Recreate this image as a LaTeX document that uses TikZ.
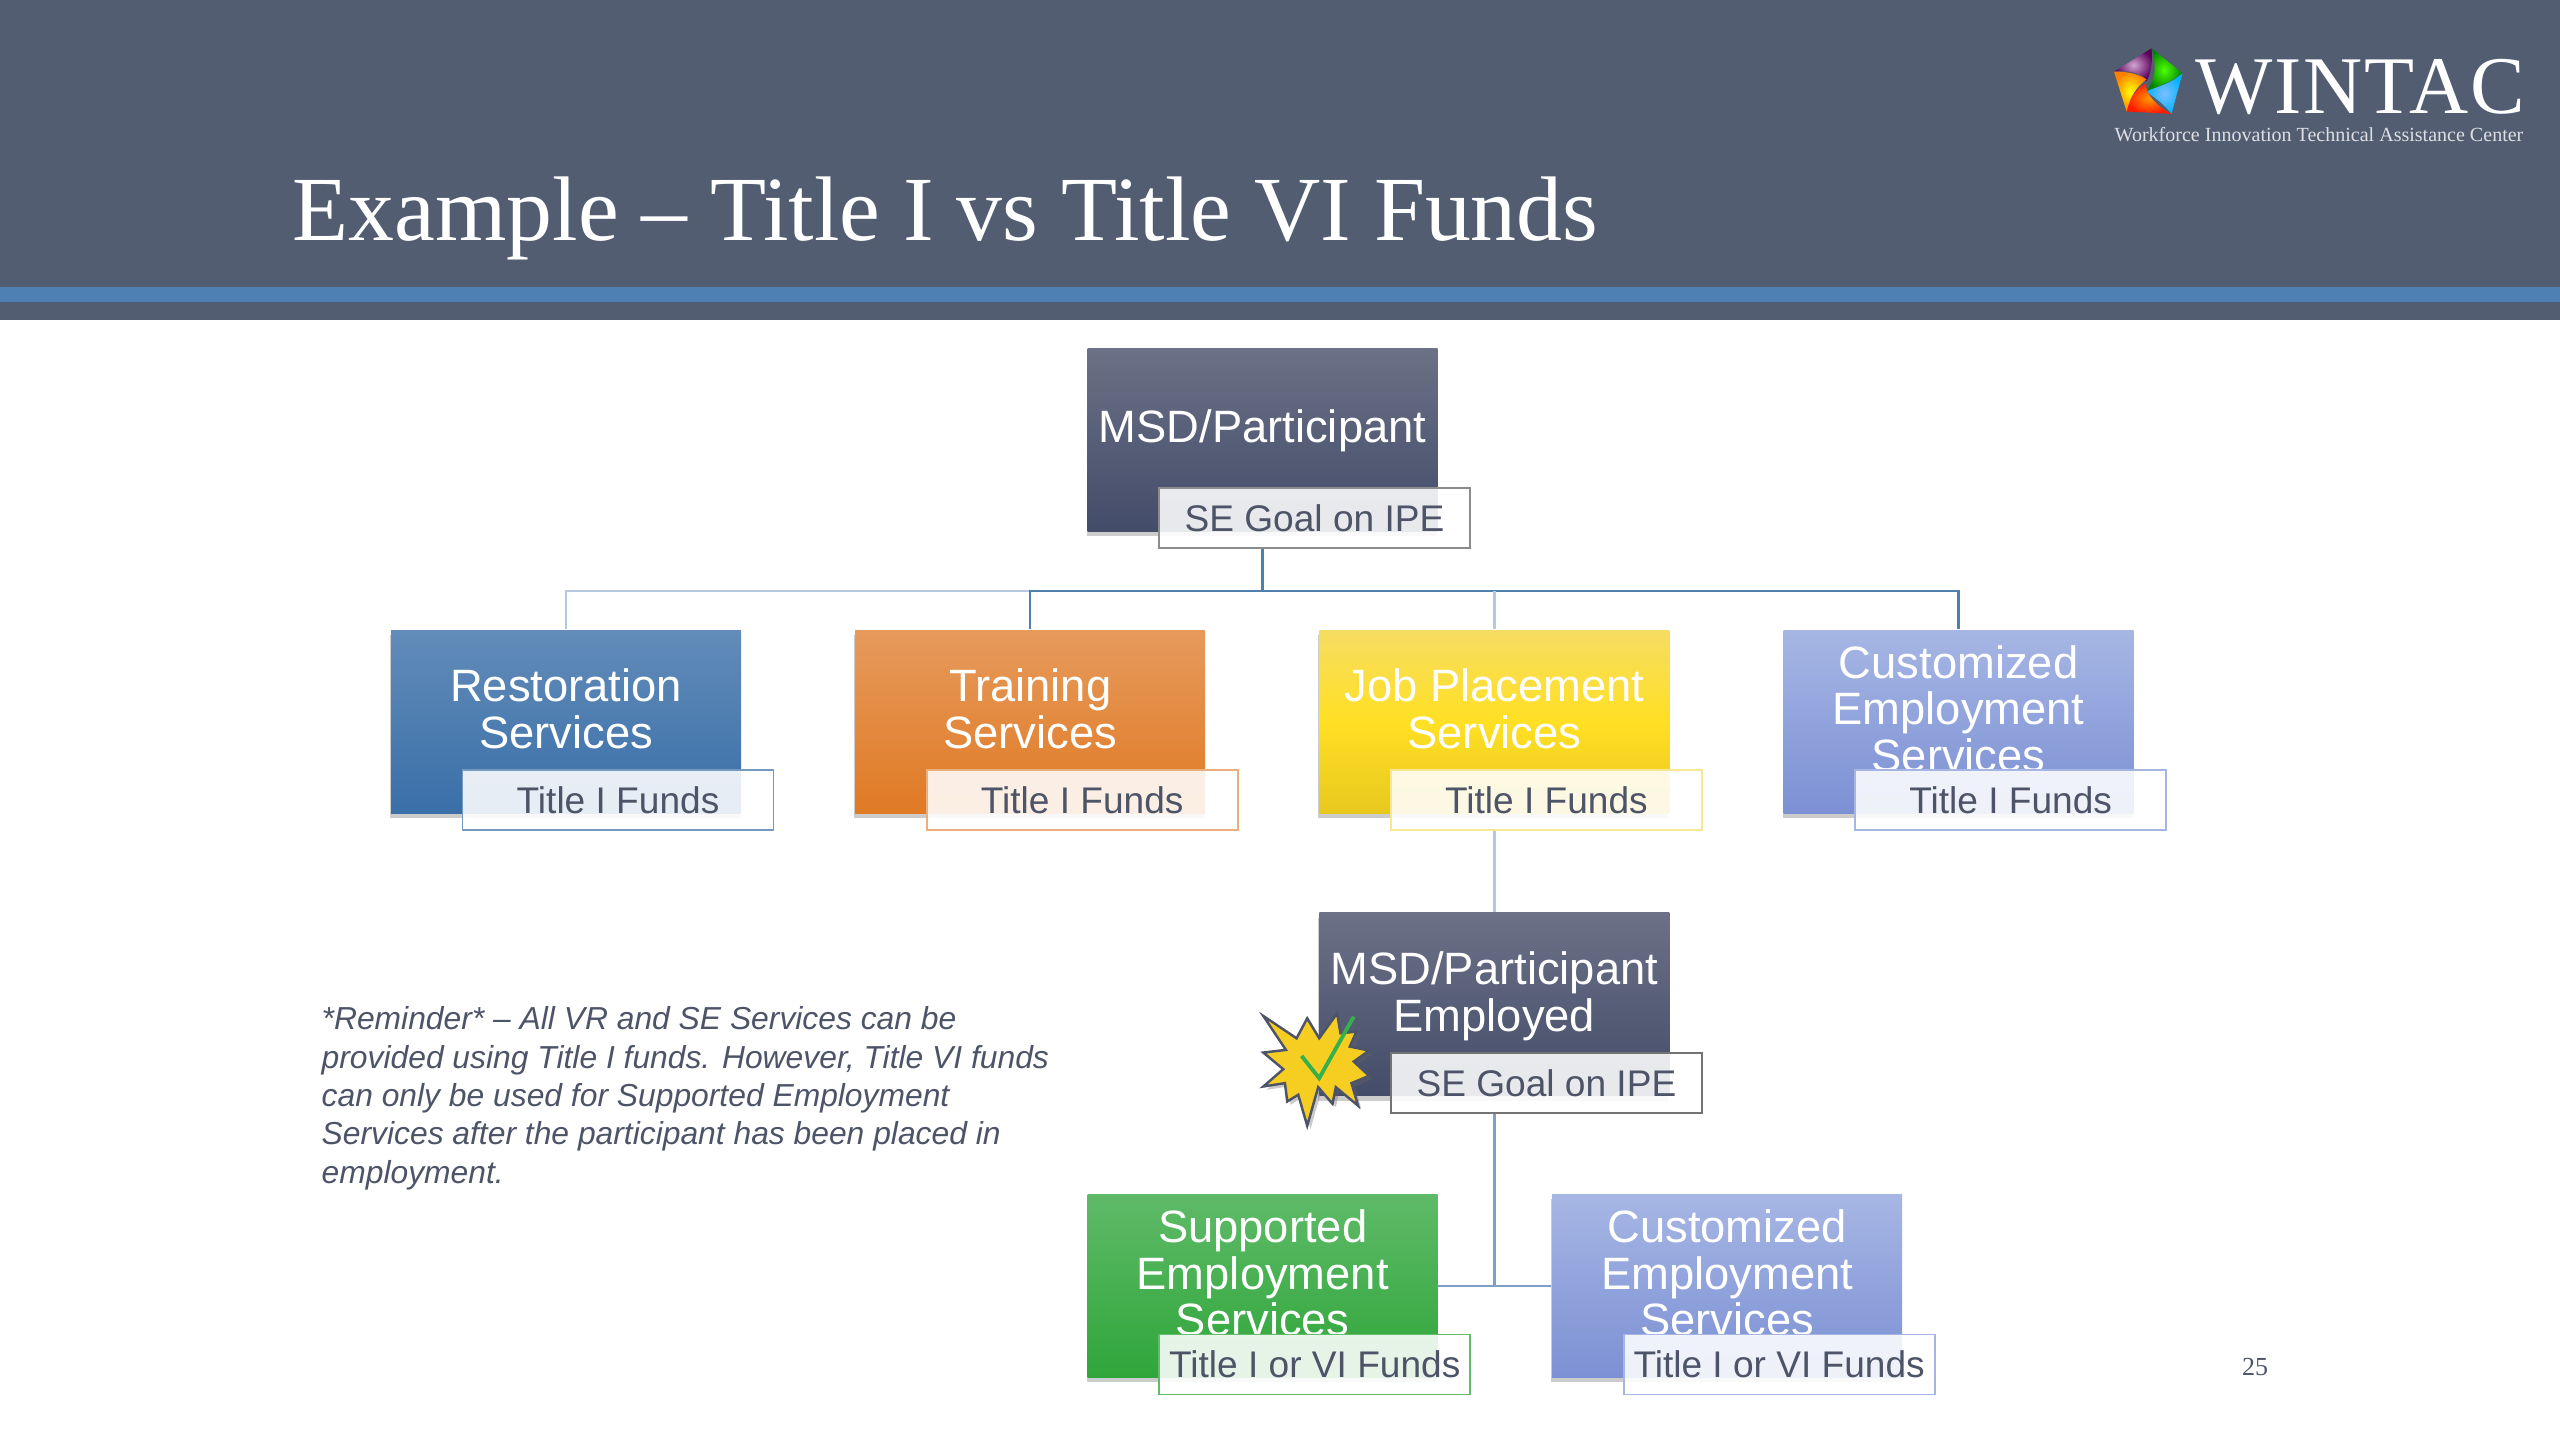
\documentclass[tikz,border=0pt]{standalone}
\usepackage{fontspec}
\setmainfont{Liberation Serif}
\setsansfont{Liberation Sans}
\usetikzlibrary{positioning,calc,shadows}
\definecolor{barslate}{HTML}{535D72}
\definecolor{barblue}{HTML}{4F80B4}
\definecolor{inkslate}{HTML}{4D5468}
\definecolor{linedark}{HTML}{4F7FAB}
\definecolor{linemid}{HTML}{7F9FC5}
\definecolor{linelight}{HTML}{B4C9E0}
\definecolor{navytop}{HTML}{6B7186}
\definecolor{navybot}{HTML}{434C69}
\definecolor{bluetop}{HTML}{628CB9}
\definecolor{bluebot}{HTML}{3A6FA8}
\definecolor{orangetop}{HTML}{E69A5C}
\definecolor{orangebot}{HTML}{E07A24}
\definecolor{yellowtop}{HTML}{F6DC62}
\definecolor{yellowmid}{HTML}{FFE024}
\definecolor{yellowbot}{HTML}{E8C81E}
\definecolor{periwinkletop}{HTML}{A6B6E4}
\definecolor{periwinklebot}{HTML}{7C90D4}
\definecolor{greentop}{HTML}{5FBA68}
\definecolor{greenbot}{HTML}{2FA63A}
\definecolor{burst}{HTML}{F6CE22}
\definecolor{checkgreen}{HTML}{35B04A}

\begin{document}
\begin{tikzpicture}[
  node distance=1.128cm,
  box/.style 2 args={top color=#1, bottom color=#2, text=white, align=center,
    minimum width=3.5cm, minimum height=1.83cm, inner sep=0pt,
    font=\sffamily\fontsize{12.9}{13.2}\selectfont,
    drop shadow={shadow xshift=-0.01cm, shadow yshift=-0.05cm, opacity=0.4}},
  tag/.style={draw=#1, line width=0.5pt, fill=white, fill opacity=0.88, text opacity=1, text=inkslate,
    minimum width=3.11cm, minimum height=0.6cm, inner sep=0pt,
    font=\sffamily\fontsize{10.55}{12}\selectfont},
  tree/.style={draw=linedark, line width=0.7pt},
  treemid/.style={draw=linemid, line width=0.7pt},
  treelight/.style={draw=linelight, line width=0.7pt}
]
  \useasboundingbox (0,0) rectangle (25.6,-14.4);

  % header
  \fill[barslate] (0,0) rectangle (25.6,-3.2);
  \fill[barblue] (0,-2.87) rectangle (25.6,-3.02);
  \node[anchor=base west, inner sep=0pt, text=white, font=\fontsize{26.1}{28}\selectfont] (title) at (2.92,-2.4) {Example -- Title I vs Title VI Funds};
  \node[anchor=base west, inner sep=0pt, text=white, font=\fontsize{23.3}{25}\selectfont\addfontfeature{LetterSpace=2}] (wintac) at (21.95,-1.13) {WINTAC};
  \node[anchor=base west, inner sep=0pt, text=white!80!barslate, font=\fontsize{5.7}{6}\selectfont] (wintacsub) at (21.14,-1.41) {Workforce Innovation Technical Assistance Center};

  % logo
  \begin{scope}[shift={(21,-0.4)}, x=0.00333cm, y=-0.00333cm]
    \shade[inner color=violet!35!white, outer color=violet!70!black] (155,25) -- (42,95) .. controls (90,90) and (130,100) .. (138,125) .. controls (150,110) and (160,70) .. (155,25) -- cycle;
    \shade[inner color=green!70!yellow, outer color=green!50!black] (155,25) -- (248,100) .. controls (210,130) and (170,140) .. (138,155) .. controls (170,120) and (170,70) .. (155,25) -- cycle;
    \shade[inner color=cyan!50!blue!50!white, outer color=cyan!70!blue] (248,100) -- (215,222) .. controls (190,190) and (160,170) .. (138,155) .. controls (170,140) and (210,135) .. (248,100) -- cycle;
    \shade[inner color=orange!80!yellow, outer color=red!80!orange] (215,222) -- (80,215) .. controls (90,170) and (110,145) .. (138,130) .. controls (135,160) and (170,200) .. (215,222) -- cycle;
    \shade[inner color=yellow, outer color=orange] (42,95) -- (80,215) .. controls (90,170) and (110,140) .. (140,118) .. controls (110,100) and (80,95) .. (42,95) -- cycle;
  \end{scope}

  % first level
  \node[box={navytop}{navybot}] (msd) at (12.625,-4.395) {MSD/Participant\\[-5.8pt]};
  \node[tag=black!45, at={($(msd)+(0.52,-0.785)$)}] (msdtag) {SE Goal on IPE};

  % services
  \node[box={bluetop}{bluebot}] (restoration) at (5.66,-7.215) {Restoration\\Services\\[-5.8pt]};
  \node[box={orangetop}{orangebot}, right=of restoration] (training) {Training\\Services\\[-5.8pt]};
  \node[box={yellowtop}{yellowbot}, middle color=yellowmid, right=of training] (placement) {Job Placement\\Services\\[-5.8pt]};
  \node[box={periwinkletop}{periwinklebot}, right=of placement] (customized) {Customized\\Employment\\Services\\[-5.8pt]};
  \node[tag=bluebot!70, at={($(restoration)+(0.52,-0.785)$)}] (restorationtag) {Title I Funds};
  \node[tag=orangetop!80, at={($(training)+(0.52,-0.785)$)}] (trainingtag) {Title I Funds};
  \node[tag=yellowtop!70, at={($(placement)+(0.52,-0.785)$)}] (placementtag) {Title I Funds};
  \node[tag=periwinkletop, at={($(customized)+(0.52,-0.785)$)}] (customizedtag) {Title I Funds};

  % employed
  \node[box={navytop}{navybot}, below=0.985cm of placement] (employed) {MSD/Participant\\Employed\\[-5.8pt]};
  \node[tag=black!55, at={($(employed)+(0.52,-0.785)$)}] (employedtag) {SE Goal on IPE};

  % burst
  \begin{scope}[shift={(12.5,-10)}, x=0.00333cm, y=-0.00333cm]
    \fill[black!60, opacity=0.35] (50,60) -- (150,125) -- (182,65) -- (218,125) -- (272,50) -- (282,110) -- (330,105) -- (310,150) -- (368,162) -- (322,195) -- (368,238) -- (315,260) -- (335,328) -- (268,272) -- (258,322) -- (215,272) -- (182,388) -- (155,295) -- (122,315) -- (115,260) -- (50,270) -- (110,218) -- (50,168) -- (118,160) -- cycle;
    \filldraw[fill=burst, draw=inkslate, line width=0.7pt] (40,48) -- (140,115) -- (172,55) -- (208,115) -- (262,40) -- (272,100) -- (320,95) -- (300,140) -- (358,152) -- (312,185) -- (358,228) -- (305,250) -- (325,318) -- (258,262) -- (248,312) -- (205,262) -- (172,378) -- (145,285) -- (112,305) -- (105,250) -- (40,260) -- (100,208) -- (40,158) -- (108,150) -- cycle;
    \draw[checkgreen, line width=1.1pt] (155,168) -- (208,235) -- (312,50);
  \end{scope}

  % bottom row
  \coordinate[below=2.815cm of employed.center] (fork);
  \node[box={greentop}{greenbot}, left=0.56cm of fork] (supported) {Supported\\Employment\\Services\\[-5.8pt]};
  \node[box={periwinkletop}{periwinklebot}, right=0.57cm of fork] (customizedvi) {Customized\\Employment\\Services\\[-5.8pt]};
  \node[tag=greenbot!75, at={($(supported)+(0.52,-0.785)$)}] (supportedtag) {Title I or VI Funds};
  \node[tag=periwinkletop, at={($(customizedvi)+(0.52,-0.785)$)}] (customizedvitag) {Title I or VI Funds};

  % connectors
  \coordinate (hub) at (12.625,-5.91);
  \draw[tree, line width=1pt] (msdtag.south -| msd) -- (hub);
  \draw[treelight] (restoration.north) |- (hub);
  \draw[tree] (training.north) |- (hub);
  \draw[tree] (hub) -| (customized.north);
  \draw[treelight] (placement.north) -- (placement.north |- hub);
  \draw[treelight] (placementtag.south -| placement) -- (employed.north);
  \draw[treemid] (employedtag.south -| employed) -- (fork);
  \draw[treemid] (supported.east) -- (customizedvi.west);

  % reminder and page number
  \node[anchor=north west, inner sep=0pt, align=left, text=inkslate, font=\sffamily\itshape\fontsize{9.05}{10.9}\selectfont] (reminder) at (3.21,-10.06) {*Reminder* -- All VR and SE Services can be\\provided using Title I funds. However, Title VI funds\\can only be used for Supported Employment\\Services after the participant has been placed in\\employment.};
  \node[text=inkslate, inner sep=0pt, font=\fontsize{7.4}{8}\selectfont] (pagenumber) at (22.55,-13.67) {25};
\end{tikzpicture}
\end{document}
